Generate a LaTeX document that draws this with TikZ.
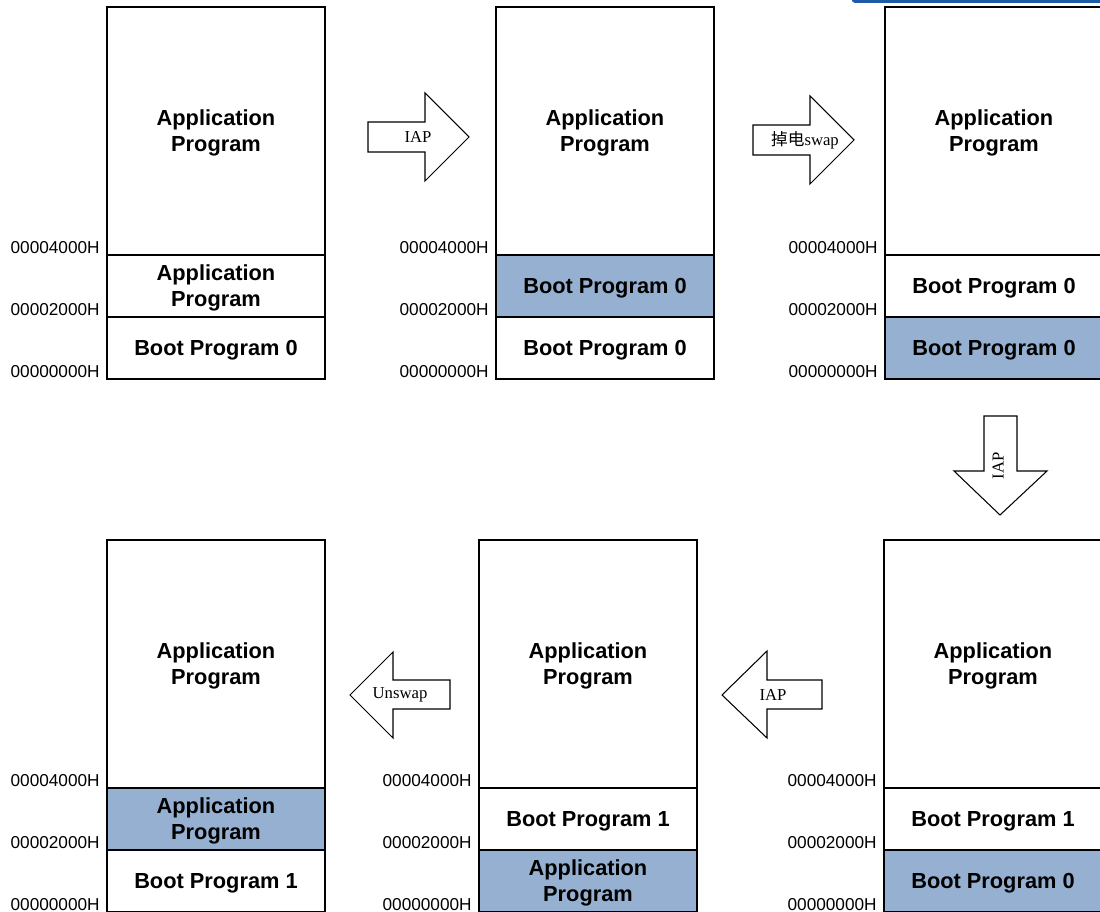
\documentclass[tikz,border=0pt]{standalone}
\usepackage{fontspec}
\setmainfont{Liberation Sans}
\newfontfamily\arrowfont{Liberation Serif}
\newfontfamily\cjkfont{Noto Sans CJK SC}
\usepackage{xcolor}
\usetikzlibrary{positioning}
\definecolor{swapblue}{RGB}{149,176,208}
\definecolor{barblue}{RGB}{30,92,168}

\begin{document}
\begin{tikzpicture}[
    x=0.02cm, y=-0.02cm,
    node distance=0pt,
    mem/.style={rectangle, draw, line width=1.1pt, minimum width=4.36cm, inner sep=0pt, outer sep=0pt, text depth=0pt, align=center, font=\fontsize{12.4}{14.7}\selectfont\bfseries},
    apptop/.style={mem, minimum height=4.96cm, anchor=north west},
    slot/.style={mem, minimum height=1.24cm},
    used/.style={fill=swapblue},
    addr/.style={anchor=base east, inner sep=0pt, font=\fontsize{9.8}{11}\selectfont},
    blockarrow/.style={draw, line width=0.6pt, fill=white, line join=miter},
    arrowtext/.style={inner sep=0pt, font=\fontsize{9.5}{11}\selectfont\arrowfont}
]
    \useasboundingbox (0,0) rectangle (1100,912);
    \fill[barblue, rounded corners=1.5] (852,-4) rectangle (1110,2.8);

    % top row
    \node[apptop] (map1top) at (107,7) {Application\\Program};
    \node[slot, below=of map1top] (map1mid) {Application\\Program};
    \node[slot, below=of map1mid] (map1low) {Boot Program 0};

    \node[apptop] (map2top) at (496,7) {Application\\Program};
    \node[slot, used, below=of map2top] (map2mid) {Boot Program 0};
    \node[slot, below=of map2mid] (map2low) {Boot Program 0};

    \node[apptop] (map3top) at (885,7) {Application\\Program};
    \node[slot, below=of map3top] (map3mid) {Boot Program 0};
    \node[slot, used, below=of map3mid] (map3low) {Boot Program 0};

    % bottom row
    \node[apptop] (map4top) at (107,540) {Application\\Program};
    \node[slot, used, below=of map4top] (map4mid) {Application\\Program};
    \node[slot, below=of map4mid] (map4low) {Boot Program 1};

    \node[apptop] (map5top) at (479,540) {Application\\Program};
    \node[slot, below=of map5top] (map5mid) {Boot Program 1};
    \node[slot, used, below=of map5mid] (map5low) {Application\\Program};

    \node[apptop] (map6top) at (884,540) {Application\\Program};
    \node[slot, below=of map6top] (map6mid) {Boot Program 1};
    \node[slot, used, below=of map6mid] (map6low) {Boot Program 0};

    % addresses
    \foreach \i in {1,...,6} {
        \node[addr] (addr\i a) at ([xshift=-0.14cm, yshift=0.03cm]map\i mid.north west) {00004000H};
        \node[addr] (addr\i b) at ([xshift=-0.14cm, yshift=0.03cm]map\i low.north west) {00002000H};
        \node[addr] (addr\i c) at ([xshift=-0.14cm, yshift=0.03cm]map\i low.south west) {00000000H};
    }

    % steps
    \draw[blockarrow] (368,122) -- (425,122) -- (425,93) -- (469,137) -- (425,181) -- (425,152) -- (368,152) -- cycle;
    \node[arrowtext] (step1) at (418,137) {IAP};

    \draw[blockarrow] (753,125) -- (810,125) -- (810,96) -- (854,140) -- (810,184) -- (810,155) -- (753,155) -- cycle;
    \node[arrowtext] (step2) at (805,140) {{\cjkfont 掉电}swap};

    \draw[blockarrow] (984,416) -- (1017,416) -- (1017,471) -- (1047,471) -- (1000,515) -- (954,471) -- (984,471) -- cycle;
    \node[arrowtext, rotate=90] (step3) at (998,466) {IAP};

    \draw[blockarrow] (822,680) -- (767,680) -- (767,651) -- (722,695) -- (767,738) -- (767,709) -- (822,709) -- cycle;
    \node[arrowtext] (step4) at (773,695) {IAP};

    \draw[blockarrow] (450,680) -- (393,680) -- (393,652) -- (350,695) -- (393,738) -- (393,709) -- (450,709) -- cycle;
    \node[arrowtext] (step5) at (400,695) {Unswap};
\end{tikzpicture}
\end{document}
